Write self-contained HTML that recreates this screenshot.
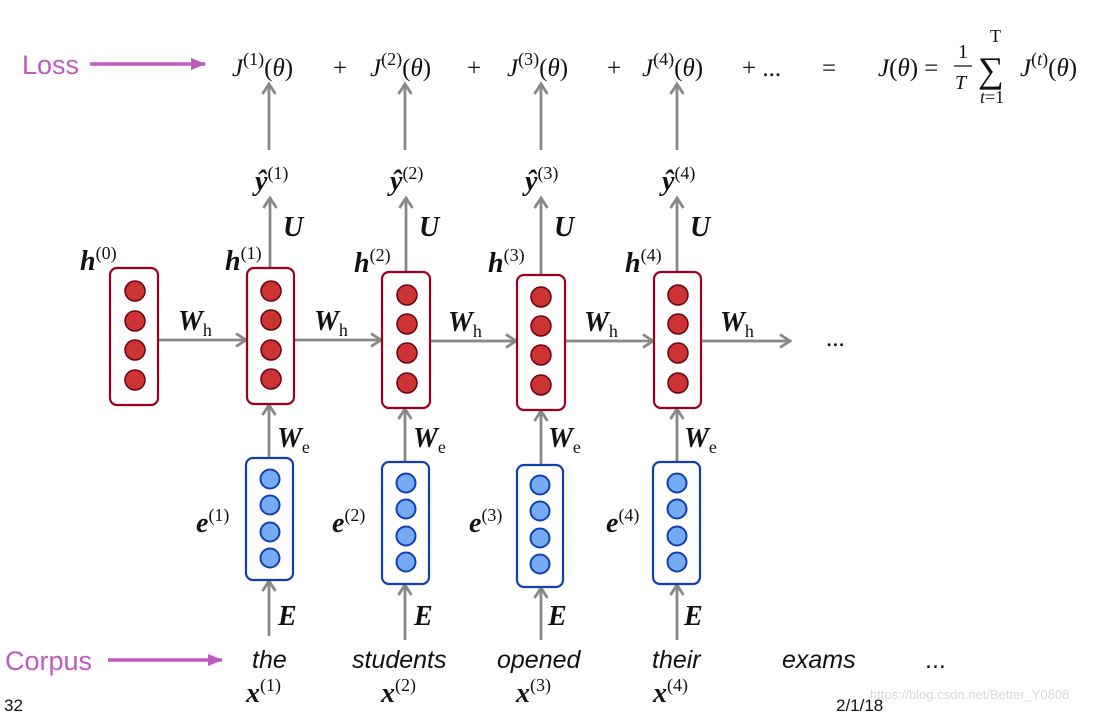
<!DOCTYPE html>
<html><head><meta charset="utf-8"><style>
body{margin:0;background:#fff;width:1096px;height:714px;overflow:hidden}
svg{display:block}
.m{font-family:"Liberation Serif",serif;font-size:25px;fill:#111}
.b{font-family:"Liberation Serif",serif;font-size:28px;font-weight:bold;font-style:italic;fill:#111}
.s{font-family:"Liberation Serif",serif;font-size:18px;fill:#111;font-style:normal;font-weight:normal}
.w{font-family:"Liberation Sans",sans-serif;font-size:25px;font-style:italic;fill:#111}
.p{font-family:"Liberation Sans",sans-serif;font-size:27px;fill:#c05ac0}
</style></head><body>
<svg width="1096" height="714" viewBox="0 0 1096 714">
<defs>
<marker id="a" markerWidth="16" markerHeight="16" refX="12" refY="8" orient="auto" markerUnits="userSpaceOnUse"><path d="M2,1.5 L12,8 L2,14.5" fill="none" stroke="#888" stroke-width="2.8"/></marker>
<marker id="pa" markerWidth="16" markerHeight="14" refX="14" refY="7" orient="auto" markerUnits="userSpaceOnUse"><path d="M0,1 L15,7 L0,13 Z" fill="#c05ac0"/></marker>
</defs>
<text class="p" x="22" y="74">Loss</text>
<line x1="90" y1="64" x2="205" y2="64" stroke="#c05ac0" stroke-width="3.5" marker-end="url(#pa)"/>
<text class="p" x="5" y="670">Corpus</text>
<line x1="108" y1="660" x2="222" y2="660" stroke="#c05ac0" stroke-width="3.5" marker-end="url(#pa)"/>
<g stroke="#888" stroke-width="2.8" fill="none">
<line x1="158" y1="340" x2="246" y2="340" marker-end="url(#a)"/>
<line x1="294" y1="340" x2="381" y2="340" marker-end="url(#a)"/>
<line x1="430" y1="341" x2="516" y2="341" marker-end="url(#a)"/>
<line x1="565" y1="341" x2="653" y2="341" marker-end="url(#a)"/>
<line x1="701" y1="341" x2="790" y2="341" marker-end="url(#a)"/>
<line x1="269" y1="150" x2="269" y2="84" marker-end="url(#a)"/>
<line x1="405" y1="150" x2="405" y2="84" marker-end="url(#a)"/>
<line x1="541" y1="150" x2="541" y2="84" marker-end="url(#a)"/>
<line x1="677" y1="150" x2="677" y2="84" marker-end="url(#a)"/>
<line x1="270" y1="268" x2="270" y2="198" marker-end="url(#a)"/>
<line x1="406" y1="272" x2="406" y2="198" marker-end="url(#a)"/>
<line x1="541" y1="275" x2="541" y2="198" marker-end="url(#a)"/>
<line x1="677" y1="272" x2="677" y2="198" marker-end="url(#a)"/>
<line x1="269" y1="458" x2="269" y2="405" marker-end="url(#a)"/>
<line x1="405" y1="462" x2="405" y2="409" marker-end="url(#a)"/>
<line x1="541" y1="465" x2="541" y2="411" marker-end="url(#a)"/>
<line x1="677" y1="462" x2="677" y2="409" marker-end="url(#a)"/>
<line x1="269" y1="636" x2="269" y2="581" marker-end="url(#a)"/>
<line x1="405" y1="640" x2="405" y2="585" marker-end="url(#a)"/>
<line x1="541" y1="640" x2="541" y2="588" marker-end="url(#a)"/>
<line x1="677" y1="640" x2="677" y2="585" marker-end="url(#a)"/>
</g>
<g stroke="#a0001c" stroke-width="2.2" fill="#fff">
<rect x="110" y="268" width="48" height="137" rx="7"/>
<rect x="247" y="268" width="47" height="136" rx="7"/>
<rect x="382" y="272" width="48" height="136" rx="7"/>
<rect x="517" y="275" width="48" height="135" rx="7"/>
<rect x="654" y="272" width="47" height="136" rx="7"/>
</g>
<g stroke="#6e0010" stroke-width="1.5" fill="#cc3333">
<circle cx="135" cy="291" r="10"/><circle cx="135" cy="321" r="10"/><circle cx="135" cy="350" r="10"/><circle cx="135" cy="380" r="10"/>
<circle cx="271" cy="291" r="10"/><circle cx="271" cy="320" r="10"/><circle cx="271" cy="350" r="10"/><circle cx="271" cy="379" r="10"/>
<circle cx="407" cy="295" r="10"/><circle cx="407" cy="324" r="10"/><circle cx="407" cy="353" r="10"/><circle cx="407" cy="383" r="10"/>
<circle cx="541" cy="297" r="10"/><circle cx="541" cy="326" r="10"/><circle cx="541" cy="355" r="10"/><circle cx="541" cy="385" r="10"/>
<circle cx="678" cy="295" r="10"/><circle cx="678" cy="324" r="10"/><circle cx="678" cy="353" r="10"/><circle cx="678" cy="383" r="10"/>
</g>
<g stroke="#1040b0" stroke-width="2.2" fill="#fff">
<rect x="246" y="458" width="47" height="122" rx="7"/>
<rect x="382" y="462" width="47" height="122" rx="7"/>
<rect x="517" y="465" width="46" height="122" rx="7"/>
<rect x="653" y="462" width="47" height="122" rx="7"/>
</g>
<g stroke="#1040b0" stroke-width="2" fill="#77aaf5">
<circle cx="270" cy="479" r="9.5"/><circle cx="270" cy="505" r="9.5"/><circle cx="270" cy="532" r="9.5"/><circle cx="270" cy="558" r="9.5"/>
<circle cx="406" cy="483" r="9.5"/><circle cx="406" cy="509" r="9.5"/><circle cx="406" cy="536" r="9.5"/><circle cx="406" cy="562" r="9.5"/>
<circle cx="540" cy="485" r="9.5"/><circle cx="540" cy="511" r="9.5"/><circle cx="540" cy="538" r="9.5"/><circle cx="540" cy="564" r="9.5"/>
<circle cx="677" cy="483" r="9.5"/><circle cx="677" cy="509" r="9.5"/><circle cx="677" cy="536" r="9.5"/><circle cx="677" cy="562" r="9.5"/>
</g>
<g class="m">
<text x="232" y="76"><tspan font-style="italic">J</tspan><tspan class="s" dy="-11">(1)</tspan><tspan dy="11">(</tspan><tspan font-style="italic">θ</tspan>)</text>
<text x="370" y="76"><tspan font-style="italic">J</tspan><tspan class="s" dy="-11">(2)</tspan><tspan dy="11">(</tspan><tspan font-style="italic">θ</tspan>)</text>
<text x="507" y="76"><tspan font-style="italic">J</tspan><tspan class="s" dy="-11">(3)</tspan><tspan dy="11">(</tspan><tspan font-style="italic">θ</tspan>)</text>
<text x="642" y="76"><tspan font-style="italic">J</tspan><tspan class="s" dy="-11">(4)</tspan><tspan dy="11">(</tspan><tspan font-style="italic">θ</tspan>)</text>
<text x="333" y="76">+</text><text x="467" y="76">+</text><text x="607" y="76">+</text><text x="742" y="76">+ ...</text><text x="822" y="76">=</text>
<text x="878" y="76"><tspan font-style="italic">J</tspan>(<tspan font-style="italic">θ</tspan>) =</text>
<text x="958" y="58" font-size="20">1</text>
<line x1="954" y1="66" x2="972" y2="66" stroke="#111" stroke-width="1.3"/>
<text x="955" y="89" font-size="20" font-style="italic">T</text>
<text x="978" y="82" font-size="36">∑</text>
<text x="990" y="42" class="s" font-style="italic" font-size="15">T</text>
<text x="980" y="103" class="s" font-size="14"><tspan font-style="italic">t</tspan>=1</text>
<text x="1020" y="76"><tspan font-style="italic">J</tspan><tspan class="s" dy="-11">(<tspan font-style="italic">t</tspan>)</tspan><tspan dy="11">(</tspan><tspan font-style="italic">θ</tspan>)</text>
</g>
<g class="b">
<text x="255" y="190">ŷ<tspan class="s" dy="-11">(1)</tspan></text>
<text x="390" y="190">ŷ<tspan class="s" dy="-11">(2)</tspan></text>
<text x="525" y="190">ŷ<tspan class="s" dy="-11">(3)</tspan></text>
<text x="662" y="190">ŷ<tspan class="s" dy="-11">(4)</tspan></text>
<text x="283" y="236">U</text><text x="419" y="236">U</text><text x="554" y="236">U</text><text x="690" y="236">U</text>
<text x="80" y="270">h<tspan class="s" dy="-11">(0)</tspan></text>
<text x="225" y="270">h<tspan class="s" dy="-11">(1)</tspan></text>
<text x="354" y="272">h<tspan class="s" dy="-11">(2)</tspan></text>
<text x="488" y="272">h<tspan class="s" dy="-11">(3)</tspan></text>
<text x="625" y="272">h<tspan class="s" dy="-11">(4)</tspan></text>
<text x="178" y="330">W<tspan class="s" dy="6" font-style="italic" font-size="20">h</tspan></text>
<text x="314" y="330">W<tspan class="s" dy="6" font-style="italic" font-size="20">h</tspan></text>
<text x="448" y="331">W<tspan class="s" dy="6" font-style="italic" font-size="20">h</tspan></text>
<text x="584" y="331">W<tspan class="s" dy="6" font-style="italic" font-size="20">h</tspan></text>
<text x="720" y="331">W<tspan class="s" dy="6" font-style="italic" font-size="20">h</tspan></text>
<text x="277" y="447">W<tspan class="s" dy="6" font-style="italic" font-size="20">e</tspan></text>
<text x="413" y="447">W<tspan class="s" dy="6" font-style="italic" font-size="20">e</tspan></text>
<text x="548" y="447">W<tspan class="s" dy="6" font-style="italic" font-size="20">e</tspan></text>
<text x="684" y="447">W<tspan class="s" dy="6" font-style="italic" font-size="20">e</tspan></text>
<text x="196" y="532">e<tspan class="s" dy="-11">(1)</tspan></text>
<text x="332" y="532">e<tspan class="s" dy="-11">(2)</tspan></text>
<text x="469" y="532">e<tspan class="s" dy="-11">(3)</tspan></text>
<text x="606" y="532">e<tspan class="s" dy="-11">(4)</tspan></text>
<text x="278" y="625">E</text><text x="414" y="625">E</text><text x="548" y="625">E</text><text x="684" y="625">E</text>
<text x="246" y="702">x<tspan class="s" dy="-11">(1)</tspan></text>
<text x="381" y="702">x<tspan class="s" dy="-11">(2)</tspan></text>
<text x="516" y="702">x<tspan class="s" dy="-11">(3)</tspan></text>
<text x="653" y="702">x<tspan class="s" dy="-11">(4)</tspan></text>
</g>
<text x="826" y="346" class="m">...</text>
<g class="w">
<text x="252" y="668">the</text>
<text x="352" y="668">students</text>
<text x="497" y="668">opened</text>
<text x="652" y="668">their</text>
<text x="782" y="668">exams</text>
<text x="925" y="668" font-style="normal">...</text>
</g>
<text x="4" y="711" font-family="Liberation Sans,sans-serif" font-size="17" fill="#111">32</text>
<text x="836" y="711" font-family="Liberation Sans,sans-serif" font-size="17" fill="#111">2/1/18</text>
<text x="870" y="699" font-family="Liberation Sans,sans-serif" font-size="13" fill="#d8d8d8">https://blog.csdn.net/Better_Y0808</text>
</svg>
</body></html>
